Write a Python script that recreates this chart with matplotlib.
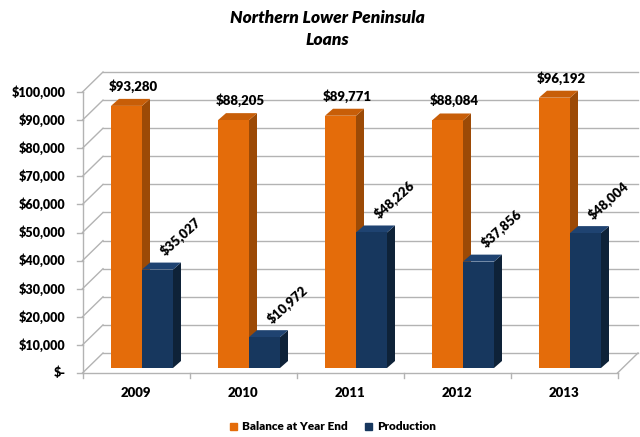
import matplotlib
matplotlib.use('Agg')
import matplotlib.pyplot as plt
from matplotlib.patches import Polygon, Patch

# data
years = ['2009', '2010', '2011', '2012', '2013']
balance = [93280, 88205, 89771, 88084, 96192]
production = [35027, 10972, 48226, 37856, 48004]
yticks = list(range(0, 100001, 10000))
ytick_labels = ['$-'] + ['${:,}'.format(v) for v in yticks[1:]]

plt.rcParams['font.family'] = ['Lato', 'DejaVu Sans']

# pixel -> data helpers (category spacing 107 px, 2.81 px per $1,000)
PX_X = 1 / 107.0
PX_Y = 1000 / 2.81

# pseudo 3d offsets
fdx, fdy = -6 * PX_X, -5 * PX_Y      # front floor edge
bdx, bdy = 14.5 * PX_X, 15 * PX_Y    # back wall
ddx, ddy = 8 * PX_X, 7 * PX_Y        # bar depth
w = 31 * PX_X

orange = '#E46C0A'
orange_side = '#9C4A06'
orange_top = '#C85E08'
blue = '#17375E'
blue_side = '#0E2238'
blue_top = '#1F4371'
grid_c = '#b3b3b3'
wt = 'heavy'

fig = plt.figure(figsize=(6.4, 4.37), dpi=100)
ax = fig.add_axes([0, 0, 1, 1])
ax.set_xlim(-142 * PX_X, (640 - 142) * PX_X)
ax.set_ylim(-(437 - 368) * PX_Y, 368 * PX_Y)
ax.set_axis_off()

n = len(years)
left = -0.5
right = n - 0.5

# back wall grid + slanted side lines + front axis ticks
for v, lab in zip(yticks, ytick_labels):
    ax.plot([left + bdx, right + bdx], [v + bdy, v + bdy], color=grid_c, lw=1, zorder=1)
    ax.plot([left + fdx, left + bdx], [v + fdy, v + bdy], color=grid_c, lw=1, zorder=1)
    ax.plot([left + fdx - 5 * PX_X, left + fdx], [v + fdy, v + fdy], color=grid_c, lw=1, zorder=1)
    ax.text(left + fdx - 17 * PX_X, v + fdy, lab, ha='right', va='center',
            fontsize=9, fontweight=wt)
ax.plot([left + fdx, left + fdx], [fdy, yticks[-1] + fdy], color=grid_c, lw=1, zorder=1)

# floor front edge and right edge
ax.plot([left + fdx, right + fdx], [fdy, fdy], color=grid_c, lw=1, zorder=1)
ax.plot([right + fdx, right + bdx], [fdy, bdy], color=grid_c, lw=1, zorder=1)
for i in range(n + 1):
    ax.plot([left + i + fdx] * 2, [fdy, fdy - 5 * PX_Y], color=grid_c, lw=1, zorder=1)

x = list(range(n))
for i in x:
    b, p = balance[i], production[i]
    # orange side and top
    ax.add_patch(Polygon([(i, 0), (i + ddx, ddy), (i + ddx, b + ddy), (i, b)],
                         closed=True, fc=orange_side, ec='none', zorder=2))
    ax.add_patch(Polygon([(i - w, b), (i - w + ddx, b + ddy), (i + ddx, b + ddy), (i, b)],
                         closed=True, fc=orange_top, ec='none', zorder=2))
    # blue side and top
    ax.add_patch(Polygon([(i + w, 0), (i + w + ddx, ddy), (i + w + ddx, p + ddy), (i + w, p)],
                         closed=True, fc=blue_side, ec='none', zorder=4))
    ax.add_patch(Polygon([(i, p), (i + ddx, p + ddy), (i + w + ddx, p + ddy), (i + w, p)],
                         closed=True, fc=blue_top, ec='none', zorder=4))

ax.bar([i - w / 2 for i in x], balance, width=w, color=orange, zorder=3)
ax.bar([i + w / 2 for i in x], production, width=w, color=blue, zorder=5)

# data labels
for i in x:
    ax.text(i - w / 2 + 7 * PX_X, balance[i] + 20 * PX_Y, '${:,}'.format(balance[i]),
            ha='center', va='center', fontsize=9.5, fontweight=wt, zorder=6)
    ax.text(i + w / 2 + 23 * PX_X, production[i] + 33 * PX_Y, '${:,}'.format(production[i]),
            ha='center', va='center', rotation=42, rotation_mode='anchor',
            fontsize=9.5, fontweight=wt, zorder=6)

# category labels
for i, yr in enumerate(years):
    ax.text(i + fdx, fdy - 20 * PX_Y, yr, ha='center', va='center',
            fontsize=9.5, fontweight=wt)

ax.text(0.511, 0.934, 'Northern Lower Peninsula\nLoans', transform=ax.transAxes,
        ha='center', va='center', fontsize=12.5, fontweight=wt, style='italic',
        linespacing=1.5)

handles = [Patch(color=orange, label='Balance at Year End'),
           Patch(color=blue, label='Production')]
fig.legend(handles=handles, loc='center', bbox_to_anchor=(0.52, 0.023), ncol=2,
           frameon=False, prop={'size': 8.5, 'weight': wt},
           handlelength=0.6, handleheight=0.6, handletextpad=0.4, columnspacing=1.5)

fig.savefig('out.png', dpi=100)
